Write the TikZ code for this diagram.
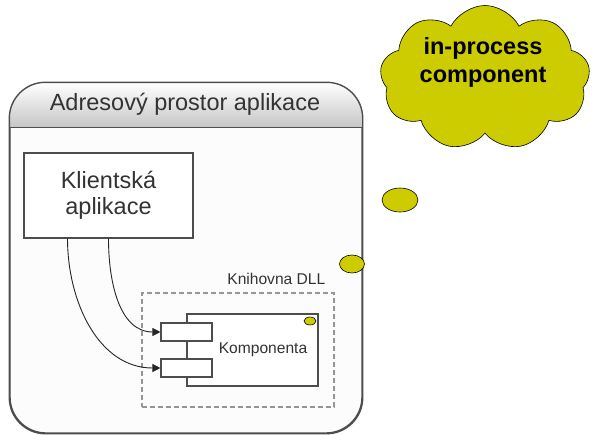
\documentclass[tikz,border=0pt]{standalone}
\usepackage{fontspec}
\setmainfont{Liberation Sans}
\definecolor{thoughtYellow}{RGB}{204, 204, 0}
\definecolor{frameGray}{RGB}{77, 77, 77}
\definecolor{textGray}{RGB}{51, 51, 51}
\definecolor{dashGray}{RGB}{150, 150, 150}
\usetikzlibrary{shapes.geometric, shapes.symbols, arrows.meta, positioning, calc}

\tikzset{
  bigText/.style={font=\fontsize{23.5}{26}\selectfont, text=textGray, align=center},
  smallText/.style={font=\fontsize{15.6}{18}\selectfont, text=textGray},
  plainBox/.style={draw=frameGray, line width=1.1pt, fill=white, inner sep=0pt},
  bubble/.style={ellipse, draw=black, line width=0.6pt, fill=thoughtYellow, inner sep=0pt},
  callArrow/.style={draw=black!85, line width=0.9pt, -{Triangle[length=8pt, width=8pt]}}
}

\begin{document}
\begin{tikzpicture}[x=1pt, y=-1pt]
    \useasboundingbox (0,0) rectangle (592,434);

    % Address space of the application
    \node[draw=frameGray, line width=1.4pt, fill=black!1, rounded corners=36,
          minimum width=352, minimum height=350, inner sep=0pt] (space) at (186,258) {};
    \begin{scope}
      \clip[rounded corners=36] (space.north west) rectangle (space.south east);
      \shade[top color=white, bottom color=gray!45] (space.north west) rectangle ([yshift=-45]space.north east);
    \end{scope}
    \draw[frameGray, line width=1.4pt, rounded corners=36] (space.north west) rectangle (space.south east);
    \draw[frameGray, line width=1.2pt] ([yshift=-45]space.north west) -- ([yshift=-45]space.north east);
    \node[bigText] (spacetitle) at (185,104) {Adresový prostor aplikace};

    % Client
    \node[plainBox, minimum width=169, minimum height=85, bigText] (client) at (108.5,195.5) {Klientská\\aplikace};

    % DLL
    \node[draw=dashGray, dash pattern=on 5pt off 3pt, line width=1.1pt, minimum width=192, minimum height=114] (dll) at (238,350) {};
    \node[smallText, anchor=base east, inner sep=0pt] (dlllabel) at ([xshift=-9, yshift=8]dll.north east) {Knihovna DLL};

    % Component with its two interfaces
    \node[plainBox, minimum width=131, minimum height=72] (comp) at (252.5,350) {};
    \node[smallText, inner sep=0pt] (comptext) at (263,350) {Komponenta};
    \node[plainBox, minimum width=51, minimum height=18] (portA) at (186.5,332) {};
    \node[plainBox, minimum width=51, minimum height=18] (portB) at (186.5,368) {};
    \node[bubble, minimum width=12, minimum height=8] (dot) at (310,321) {};

    % Calls
    \draw[callArrow] (client.south) to[out=-90, in=180] (portA.west);
    \draw[callArrow] ([xshift=-41]client.south) to[out=-90, in=180] (portB.west);

    % Thought
    \node[cloud, cloud puffs=9, cloud puff arc=125, cloud ignores aspect, draw=black, line width=0.6pt,
          fill=thoughtYellow, minimum width=210, minimum height=145, inner sep=0pt] (thought) at (485,78) {};
    \node[font=\fontsize{23.5}{28}\selectfont\bfseries, align=center] (thoughttext) at (483,62) {in-process\\component};
    \node[bubble, minimum width=36, minimum height=24] (bubA) at (400,200) {};
    \node[bubble, minimum width=25, minimum height=18] (bubB) at (352,264) {};
\end{tikzpicture}
\end{document}
